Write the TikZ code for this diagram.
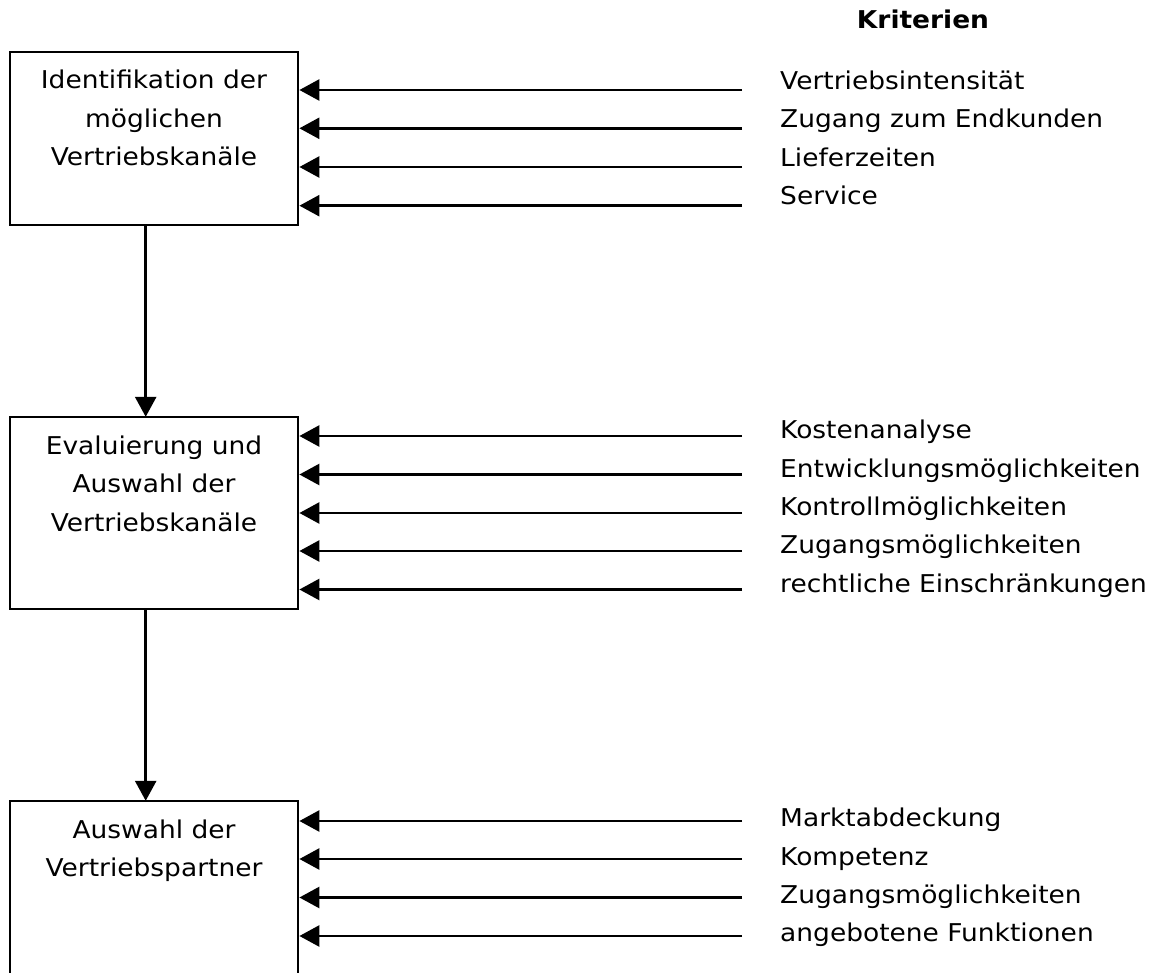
\documentclass[tikz,border=0pt]{standalone}
\usepackage{fontspec}
\setmainfont{DejaVu Sans}[FakeStretch=1.08]
\usetikzlibrary{arrows.meta}
\begin{document}
\begin{tikzpicture}[x=1pt,y=-1pt,
  box/.style={draw, line width=2.8pt, rectangle, inner sep=0pt, minimum width=288pt},
  arr/.style={line width=2.7pt, -{Triangle[length=20pt,width=21pt]}},
  lbl/.style={anchor=base, inner sep=0pt, font=\fontsize{24.5}{30}\selectfont},
  crit/.style={anchor=base west, inner sep=0pt, font=\fontsize{24.5}{30}\selectfont},
  head/.style={anchor=base, inner sep=0pt, font=\fontsize{24.5}{30}\selectfont\bfseries}
]
\useasboundingbox (0,0) rectangle (1157,973);
\clip (0,0) rectangle (1157,973);

% boxes
\node[box, minimum height=173pt] (b1) at (154,138.5) {};
\node[box, minimum height=192pt] (b2) at (154,513) {};
\node[box, minimum height=199pt] (b3) at (154,900.5) {};

% box texts
\node[lbl] (t11) at (154,89) {Identifikation der};
\node[lbl] (t12) at (154,127.5) {möglichen};
\node[lbl] (t13) at (154,166) {Vertriebskanäle};
\node[lbl] (t21) at (154,454) {Evaluierung und};
\node[lbl] (t22) at (154,492.5) {Auswahl der};
\node[lbl] (t23) at (154,531) {Vertriebskanäle};
\node[lbl] (t31) at (154,838) {Auswahl der};
\node[lbl] (t32) at (154,876.5) {Vertriebspartner};

% heading
\node[head] (kr) at (923,29) {Kriterien};

% criteria group 1
\node[crit] (k11) at (780,89.5) {Vertriebsintensität};
\node[crit] (k12) at (780,128) {Zugang zum Endkunden};
\node[crit] (k13) at (780,166.5) {Lieferzeiten};
\node[crit] (k14) at (780,205) {Service};
\coordinate (s11) at (742,90);
\coordinate (s12) at (742,128.3);
\coordinate (s13) at (742,167);
\coordinate (s14) at (742,205.7);
\foreach \s in {s11,s12,s13,s14}
  \draw[arr] (\s) -- (b1.east |- \s);

% criteria group 2
\node[crit] (k21) at (780,438.5) {Kostenanalyse};
\node[crit] (k22) at (780,477) {Entwicklungsmöglichkeiten};
\node[crit] (k23) at (780,515.5) {Kontrollmöglichkeiten};
\node[crit] (k24) at (780,553.5) {Zugangsmöglichkeiten};
\node[crit] (k25) at (780,592) {rechtliche Einschränkungen};
\coordinate (s21) at (742,436);
\coordinate (s22) at (742,474.5);
\coordinate (s23) at (742,513);
\coordinate (s24) at (742,551);
\coordinate (s25) at (742,589.5);
\foreach \s in {s21,s22,s23,s24,s25}
  \draw[arr] (\s) -- (b2.east |- \s);

% criteria group 3
\node[crit] (k31) at (780,826.5) {Marktabdeckung};
\node[crit] (k32) at (780,865) {Kompetenz};
\node[crit] (k33) at (780,903) {Zugangsmöglichkeiten};
\node[crit] (k34) at (780,941.5) {angebotene Funktionen};
\coordinate (s31) at (742,821);
\coordinate (s32) at (742,859);
\coordinate (s33) at (742,897.5);
\coordinate (s34) at (742,936);
\foreach \s in {s31,s32,s33,s34}
  \draw[arr] (\s) -- (b3.east |- \s);

% vertical flow arrows
\draw[arr, shorten >=-1.2pt] ([xshift=-8.3pt]b1.south) -- ([xshift=-8.3pt]b2.north);
\draw[arr, shorten >=-1.2pt] ([xshift=-8.3pt]b2.south) -- ([xshift=-8.3pt]b3.north);
\end{tikzpicture}
\end{document}
